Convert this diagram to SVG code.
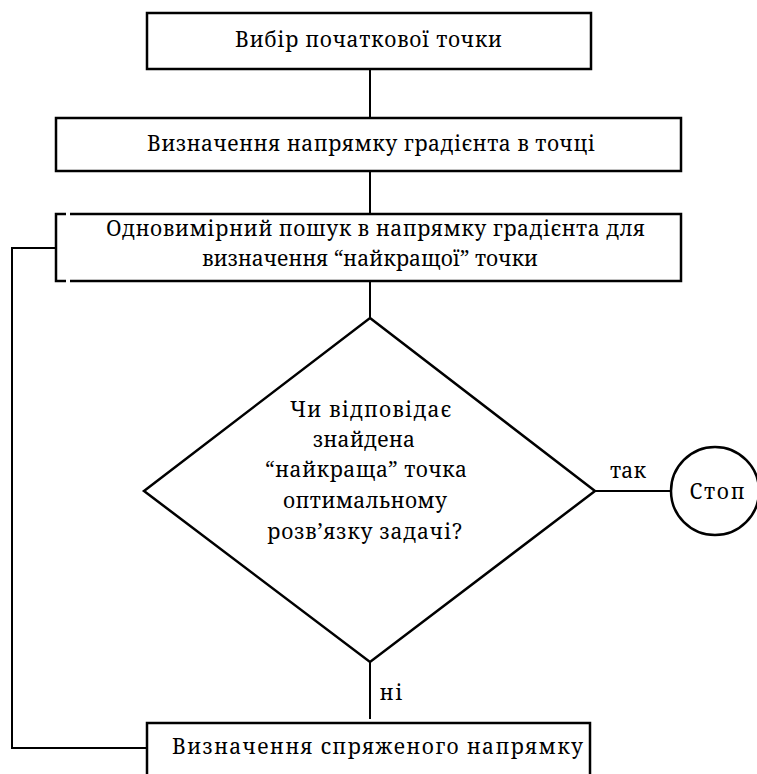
<svg xmlns="http://www.w3.org/2000/svg" width="757" height="774" viewBox="0 0 757 774">
<style>
.box{fill:#fff;stroke:#000;stroke-width:2.5}
.ln{fill:none;stroke:#000;stroke-width:2}
text{font-family:"Noto Serif","DejaVu Serif",serif;font-size:21px;fill:#000;text-anchor:middle}
</style>
<rect width="757" height="774" fill="#fff"/>
<g id="connectors">
<line class="ln" x1="370" y1="69" x2="370" y2="118"/>
<line class="ln" x1="370" y1="171" x2="370" y2="214"/>
<line class="ln" x1="370" y1="281" x2="370" y2="318"/>
<line class="ln" x1="595" y1="491" x2="671" y2="491"/>
<line class="ln" x1="370" y1="662" x2="370" y2="719"/>
<polyline class="ln" points="56,248 12,248 12,748 147,748"/>
<text x="628" y="478" textLength="36" lengthAdjust="spacing">так</text>
<text x="391" y="700" textLength="23" lengthAdjust="spacing">ні</text>
</g>
<g id="start">
<rect class="box" x="147" y="13" width="444" height="56"/>
<text x="368.5" y="47" textLength="267" lengthAdjust="spacing">Вибір початкової точки</text>
</g>
<g id="gradient">
<rect class="box" x="56" y="118" width="625" height="53"/>
<text x="371" y="151" textLength="448" lengthAdjust="spacing">Визначення напрямку градієнта в точці</text>
</g>
<g id="search">
<rect class="box" x="56" y="214" width="625" height="67"/>
<line x1="66" y1="214" x2="70" y2="214" stroke="#fff" stroke-width="4"/>
<line x1="66" y1="281" x2="70" y2="281" stroke="#fff" stroke-width="4"/>
<text x="375.5" y="236" textLength="539" lengthAdjust="spacing">Одновимірний пошук в напрямку градієнта для</text>
<text x="370" y="266" textLength="336" lengthAdjust="spacing">визначення “найкращої” точки</text>
</g>
<g id="decision">
<polygon class="box" points="370,318 595,491 370,662 144,491"/>
<text x="370.5" y="417" textLength="161" lengthAdjust="spacing">Чи відповідає</text>
<text x="364" y="447" textLength="102" lengthAdjust="spacing">знайдена</text>
<text x="366" y="477" textLength="202" lengthAdjust="spacing">“найкраща” точка</text>
<text x="365" y="508" textLength="164" lengthAdjust="spacing">оптимальному</text>
<text x="364.5" y="539" textLength="195" lengthAdjust="spacing">розв’язку задачі?</text>
</g>
<g id="stop">
<circle class="box" cx="715" cy="491" r="44"/>
<text x="717" y="499" textLength="55" lengthAdjust="spacing">Стоп</text>
</g>
<g id="conjugate">
<rect class="box" x="147" y="723" width="443" height="60"/>
<text x="377.5" y="754" textLength="411" lengthAdjust="spacing">Визначення спряженого напрямку</text>
</g>
</svg>
